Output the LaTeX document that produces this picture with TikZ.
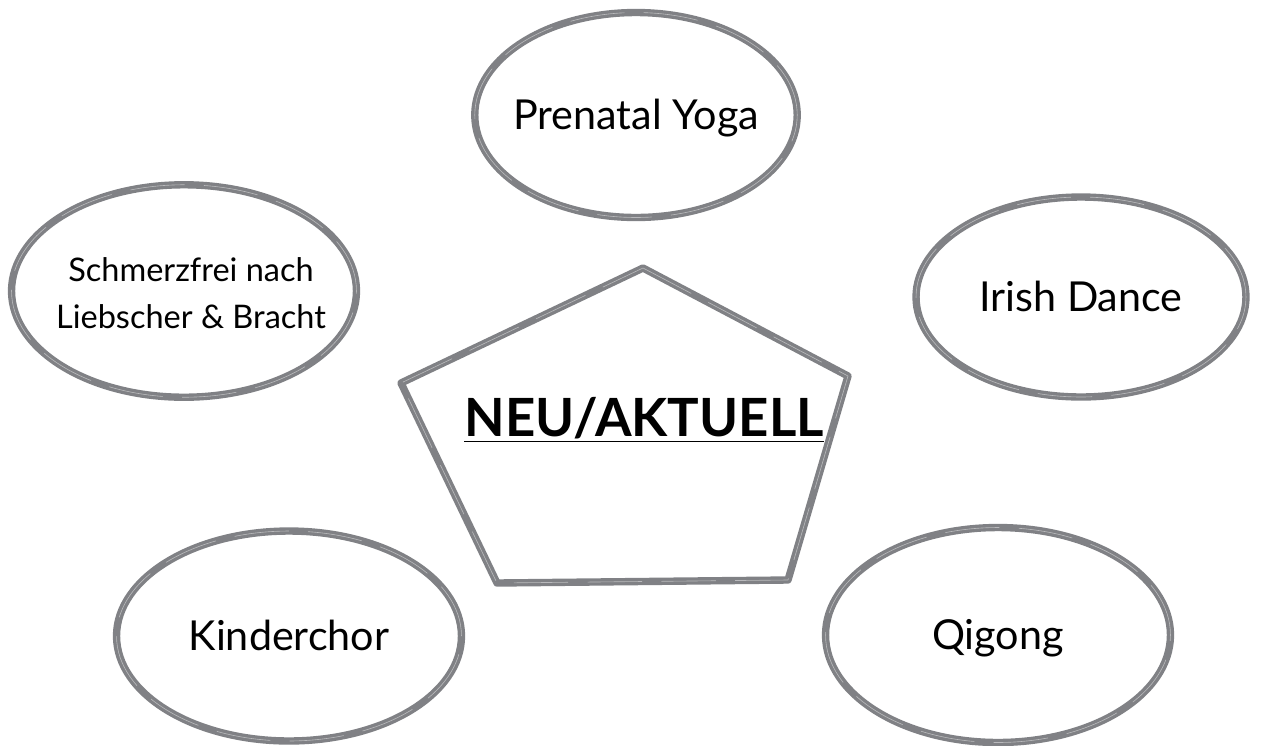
\documentclass[tikz,border=0pt]{standalone}
\usepackage{fontspec}
\setmainfont{Lato}
\usetikzlibrary{shapes.geometric}
\definecolor{brushgray}{RGB}{128,129,133}
\begin{document}
\begin{tikzpicture}[x=0.02cm,y=-0.02cm,
    brush/.style={draw=brushgray,line width=4.2pt,
      postaction={draw=white,line width=0.35pt,opacity=0.45,dash pattern=on 31pt off 11pt}},
    bubble/.style={ellipse,brush,inner sep=0pt},
    coursename/.style={anchor=base,font=\fontsize{23.5}{26}\selectfont}]
        \useasboundingbox (0,0) rectangle (1262,745);
        \node[bubble,minimum width=6.45cm,minimum height=4.1cm] (yoga) at (636,115) {};
        \node[bubble,minimum width=6.6cm,minimum height=4.0cm] (irish) at (1081,297) {};
        \node[bubble,minimum width=6.9cm,minimum height=4.25cm] (schmerz) at (184,291) {};
        \node[bubble,minimum width=6.9cm,minimum height=4.2cm] (kinder) at (289,636) {};
        \node[bubble,minimum width=6.9cm,minimum height=4.3cm] (qigong) at (998,635) {};
        \node[coursename] (yogatext) at ([yshift=-8.5pt]yoga.center) {Prenatal Yoga};
        \node[coursename] (irishtext) at ([yshift=-8.5pt]irish.center) {Irish Dance};
        \node[coursename] (kindertext) at ([yshift=-8.5pt]kinder.center) {Kinderchor};
        \node[coursename] (qigongtext) at ([yshift=-8.5pt]qigong.center) {Qigong};
        \node[align=center,font=\fontsize{18.5}{26.5}\selectfont] (schmerztext) at (191,293)
          {Schmerzfrei nach\\Liebscher \& Bracht};
        \coordinate (top) at (643,268);
        \coordinate (right) at (848,376);
        \coordinate (bright) at (788,580);
        \coordinate (bleft) at (497,583);
        \coordinate (left) at (401,383);
        \draw[brush,line join=round] (top)--(right)--(bright)--(bleft)--(left)--cycle;
        \node[font=\fontsize{30}{34}\selectfont\bfseries] (neu) at (644,420)
          {\underline{NEU/AKTUELL}};
      \end{tikzpicture}
\end{document}
